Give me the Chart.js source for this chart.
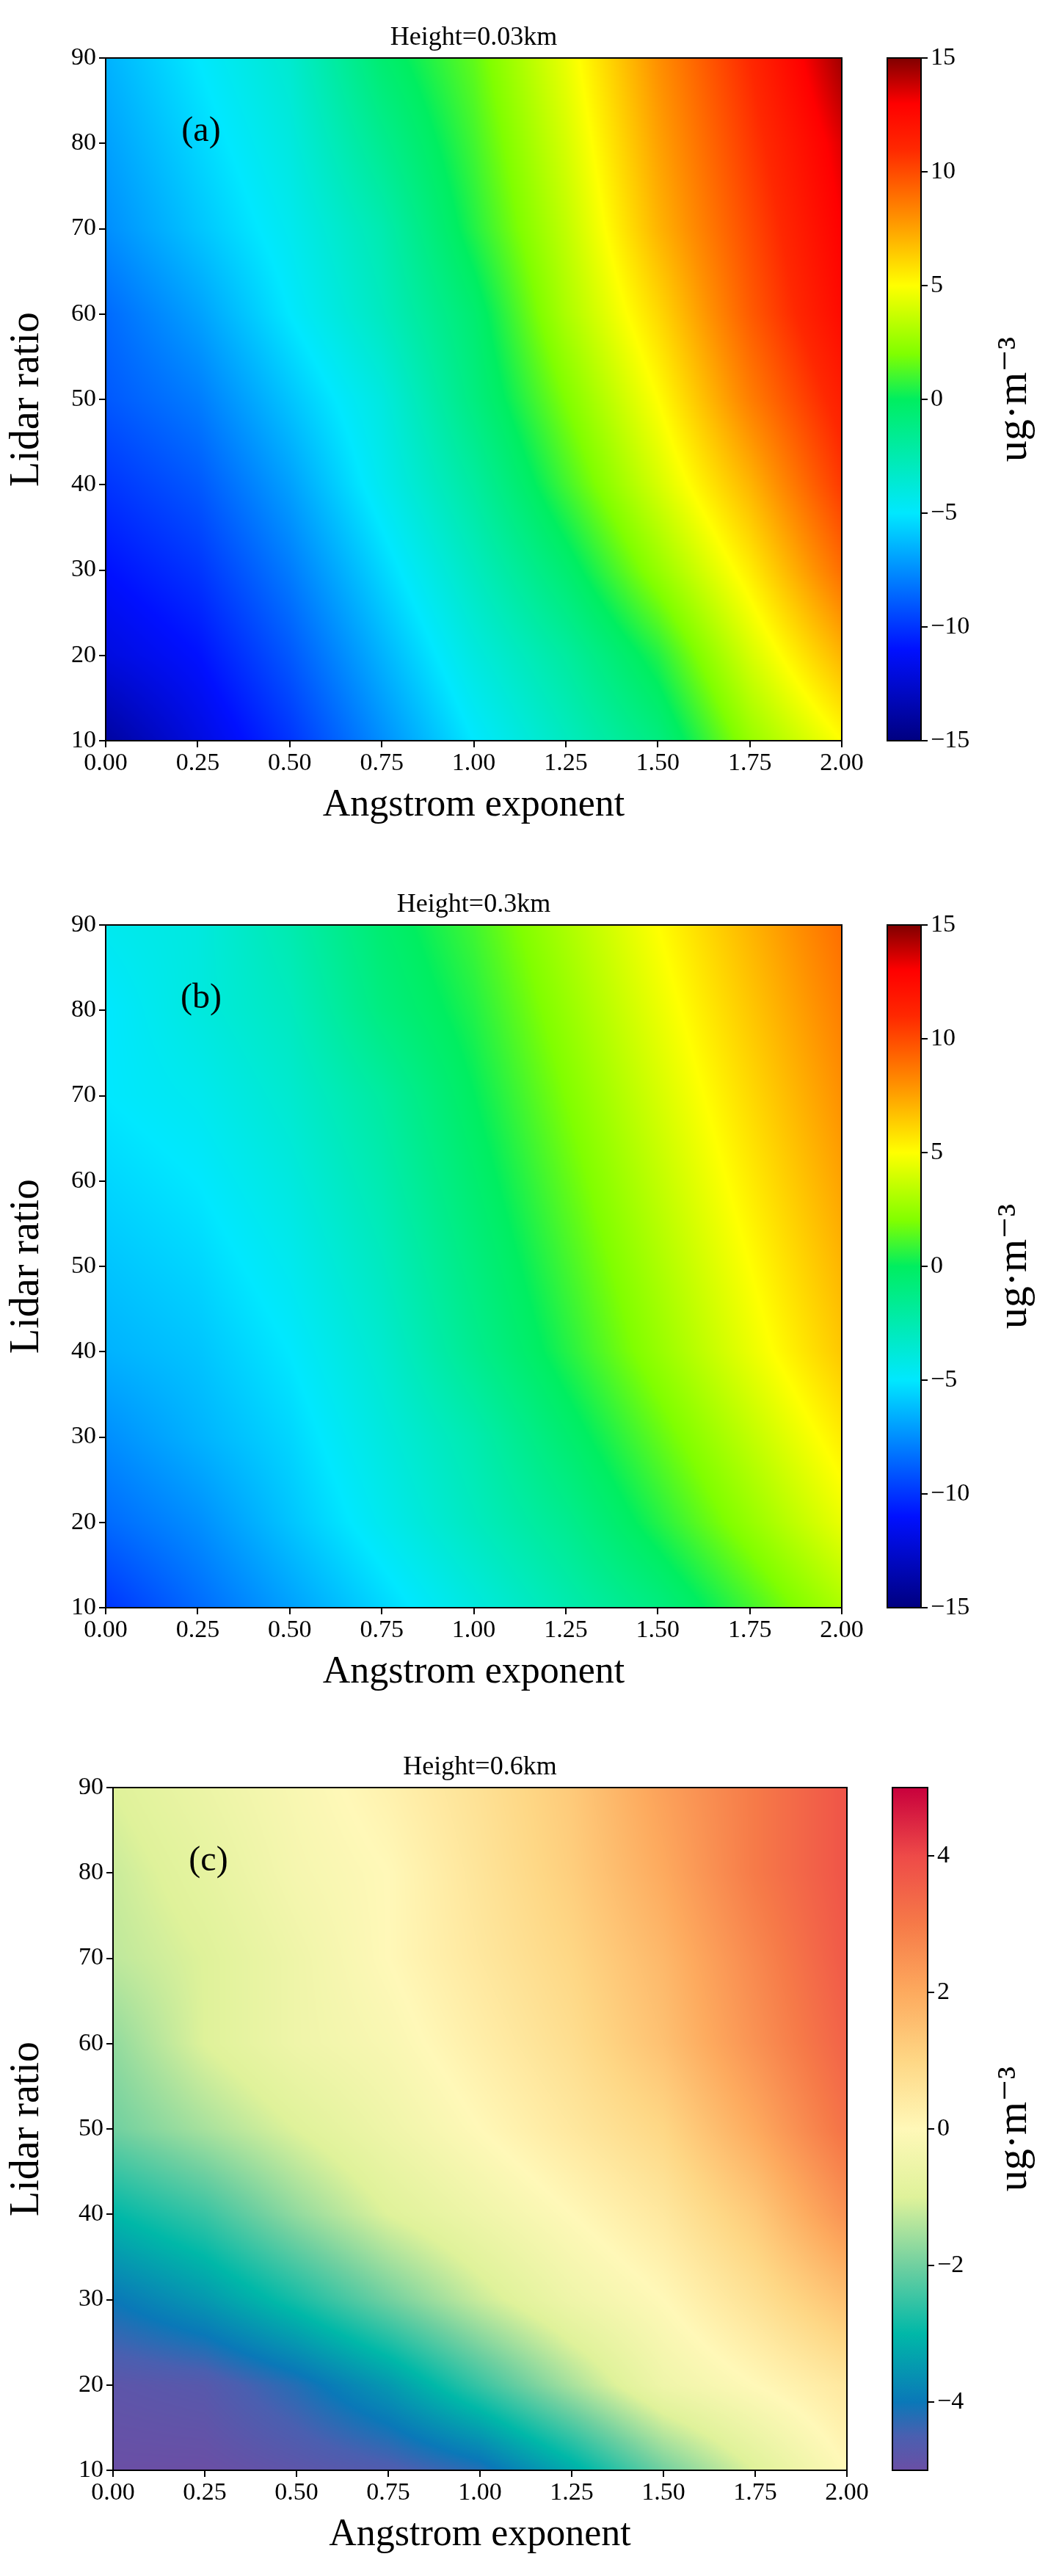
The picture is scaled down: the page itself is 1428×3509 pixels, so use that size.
<!DOCTYPE html>
<html><head><meta charset="utf-8">
<script src="https://cdn.jsdelivr.net/npm/chart.js@4"></script>
<style>body{margin:0;background:#fff;width:1428px;height:3509px;position:relative;overflow:hidden}canvas{position:absolute}</style>
</head><body>
<script>
// ---- data ----
const angstrom = [0,0.25,0.5,0.75,1.0,1.25,1.5,1.75,2.0];
const lidar = [10,20,30,40,50,60,70,80,90];
const xTicks = [0,0.25,0.5,0.75,1,1.25,1.5,1.75,2];
const yTicks = [10,20,30,40,50,60,70,80,90];
// rows: lidar 10..90, cols: angstrom 0..2
const valuesA = [
 [-14,-12,-10,-7.5,-5,-3,-1,2.5,5],
 [-12,-11,-9,-6.5,-4,-2,0.5,4,7],
 [-11,-10,-8,-5.5,-3,-0.5,2.5,5.5,9],
 [-10,-9,-7,-4.5,-2,1,4,7,10.5],
 [-9,-8,-6,-4,-1,2,5,8.5,11.5],
 [-8.5,-7,-5,-3,-0.5,3,6,9.5,12.5],
 [-7.5,-6,-4.5,-2.5,0.5,3.5,7,10,13],
 [-7,-5.5,-4,-1.5,1,4,7.5,10.5,13.5],
 [-6.5,-5,-3.5,-0.5,1.5,4.5,8,11,14.5]];
const valuesB = [
 [-10,-8.5,-7,-5.5,-4,-2.5,-1,1,3],
 [-8.5,-7.5,-6,-4.5,-3,-1.5,0.5,2.5,4.5],
 [-7.5,-6.5,-5.5,-4,-2.5,-0.5,1.5,3.5,5.5],
 [-6.5,-6,-5,-3.5,-1.5,0.5,2.5,4.5,6.5],
 [-6,-5.5,-4.5,-3,-1,1,3,5,7],
 [-5.5,-5,-4,-2.5,-0.5,1.5,3.5,5.5,7.5],
 [-5,-4.5,-3.5,-2,0,2,4,6,8],
 [-5,-4,-3,-1,0.5,2.5,4.5,6.5,8.5],
 [-4.5,-4,-2.5,-0.5,1,3,5,7,9]];
const valuesC = [
 [-5,-5,-4.8,-4.6,-4.2,-3.2,-2,-1,0],
 [-4.8,-4.7,-4.2,-3.5,-2.5,-1.5,-0.5,0,0.5],
 [-4,-3.5,-2.8,-2,-1.2,-0.5,0,0.7,1.5],
 [-3,-2.5,-1.7,-1,-0.5,0,0.5,1.3,2.5],
 [-2,-1.5,-1,-0.5,0,0.5,1,2,3.2],
 [-1.7,-1,-0.5,-0.2,0.3,0.8,1.5,2.5,3.5],
 [-1.3,-1,-0.5,0,0.5,1,1.7,2.7,3.7],
 [-1.2,-0.8,-0.3,0,0.6,1.2,2,3,3.8],
 [-1,-0.6,-0.2,0.2,0.7,1.3,2.2,3,3.8]];
const cbTicksAB = [-15,-10,-5,0,5,10,15];
const cbTicksC = [-4,-2,0,2,4];
const jetStops = [[-15,'#000080'],[-11,'#0010ff'],[-5,'#00e8ff'],[0,'#00ee60'],[2,'#80ff00'],[5,'#ffff00'],[8,'#ff9000'],[11,'#ff2800'],[13,'#ff0000'],[15,'#800000']];
const spectralStops = [[-5,'#6a4fa5'],[-4.5,'#4a5fb0'],[-4,'#0a78b8'],[-3,'#00b8a8'],[-2,'#70d0a0'],[-1,'#dff29a'],[0,'#fff8b8'],[1,'#fed785'],[2,'#fdaa5e'],[3,'#f67a48'],[4,'#ee4a48'],[5,'#c8003c']];

// ---- helpers ----
const FONT = "'Liberation Serif', 'DejaVu Serif', serif";
function hex(c){return [parseInt(c.slice(1,3),16),parseInt(c.slice(3,5),16),parseInt(c.slice(5,7),16)];}
function cmap(stops,v){
  if(v<=stops[0][0]) return hex(stops[0][1]);
  for(let i=1;i<stops.length;i++){ if(v<=stops[i][0]){const a=hex(stops[i-1][1]),b=hex(stops[i][1]);const t=(v-stops[i-1][0])/(stops[i][0]-stops[i-1][0]);return a.map((x,k)=>x+(b[k]-x)*t);} }
  return hex(stops[stops.length-1][1]);
}
function sample(grid,x,y){
  const fx=(x-angstrom[0])/(angstrom[1]-angstrom[0]), fy=(y-lidar[0])/(lidar[1]-lidar[0]);
  const i=Math.max(0,Math.min(angstrom.length-2,Math.floor(fx))), j=Math.max(0,Math.min(lidar.length-2,Math.floor(fy)));
  const tx=Math.max(0,Math.min(1,fx-i)), ty=Math.max(0,Math.min(1,fy-j));
  const a=grid[j][i],b=grid[j][i+1],c=grid[j+1][i],d=grid[j+1][i+1];
  return (a*(1-tx)+b*tx)*(1-ty)+(c*(1-tx)+d*tx)*ty;
}
const minus = v => String(v).replace('-','\u2212');

function panel(top, plotLeft, plotRight, grid, stops, cbMin, cbMax, cbTicks, cbLeft, cbRight, title, tag){
  const padTop=79, H=padTop+930+120, W=1190;
  const cv=document.createElement('canvas'); cv.width=W; cv.height=H; cv.style.left='0px'; cv.style.top=(top-padTop)+'px'; document.body.appendChild(cv);
  const heat={id:'heat',beforeDatasetsDraw(ch){
    const a=ch.chartArea,xs=ch.scales.x,ys=ch.scales.y,ctx=ch.ctx;
    const w=Math.round(a.right-a.left),h=Math.round(a.bottom-a.top);
    const img=ctx.createImageData(w,h);
    for(let py=0;py<h;py++){const yv=ys.getValueForPixel(a.top+py+0.5);
      for(let px=0;px<w;px++){const xv=xs.getValueForPixel(a.left+px+0.5);
        const c=cmap(stops,sample(grid,xv,yv));const k=(py*w+px)*4;img.data[k]=c[0];img.data[k+1]=c[1];img.data[k+2]=c[2];img.data[k+3]=255;}}
    ctx.putImageData(img,Math.round(a.left),Math.round(a.top));
  },afterDraw(ch){
    const a=ch.chartArea,ctx=ch.ctx;ctx.save();ctx.strokeStyle='#000';ctx.lineWidth=2;ctx.strokeRect(a.left,a.top,a.right-a.left,a.bottom-a.top);
    ctx.fillStyle='#000';ctx.textAlign='center';ctx.textBaseline='alphabetic';ctx.font='36px '+FONT;
    ctx.fillText(title,(a.left+a.right)/2,a.top-18);
    ctx.font='48px '+FONT;ctx.textBaseline='middle';ctx.fillText(tag,a.left+130,a.top+100);ctx.restore();}};
  const pts=[];lidar.forEach((y,j)=>angstrom.forEach((x,i)=>pts.push({x,y,v:grid[j][i]})));
  new Chart(cv,{type:'scatter',data:{datasets:[{data:pts,pointRadius:0}]},plugins:[heat],
    options:{responsive:false,animation:false,devicePixelRatio:1,layout:{padding:{top:padTop,right:W-plotRight,left:0,bottom:0}},
      plugins:{legend:{display:false},tooltip:{enabled:false}},
      scales:{
        x:{type:'linear',min:0,max:2,afterBuildTicks:s=>{s.ticks=xTicks.map(v=>({value:v}));},afterFit:s=>{s.height=H-padTop-930;},
          ticks:{callback:v=>v.toFixed(2),color:'#000',font:{family:FONT,size:34},maxRotation:0,padding:2},
          grid:{drawOnChartArea:false,drawTicks:true,tickLength:9,color:'#000',lineWidth:2},border:{display:false},
          title:{display:true,text:'Angstrom exponent',color:'#000',font:{family:FONT,size:52},padding:{top:0,bottom:0}}},
        y:{type:'linear',min:10,max:90,afterBuildTicks:s=>{s.ticks=yTicks.map(v=>({value:v}));},afterFit:s=>{s.width=plotLeft;},
          ticks:{color:'#000',font:{family:FONT,size:34},padding:4},
          grid:{drawOnChartArea:false,drawTicks:true,tickLength:9,color:'#000',lineWidth:2},border:{display:false},
          title:{display:true,text:'Lidar ratio',color:'#000',font:{family:FONT,size:56},padding:{top:4,bottom:0}}}}}});
  // colorbar
  const CW=1428-1150;
  const cb=document.createElement('canvas');cb.width=CW;cb.height=H;cb.style.left='1150px';cb.style.top=(top-padTop)+'px';document.body.appendChild(cb);
  const grad={id:'grad',beforeDatasetsDraw(ch){const a=ch.chartArea,ys=ch.scales.y,ctx=ch.ctx;
    const g=ctx.createLinearGradient(0,ys.getPixelForValue(cbMin),0,ys.getPixelForValue(cbMax));
    stops.forEach(s=>g.addColorStop((s[0]-cbMin)/(cbMax-cbMin),s[1]));ctx.fillStyle=g;ctx.fillRect(a.left,a.top,a.right-a.left,a.bottom-a.top);},
    afterDraw(ch){const a=ch.chartArea,ctx=ch.ctx;ctx.save();ctx.strokeStyle='#000';ctx.lineWidth=2;ctx.strokeRect(a.left,a.top,a.right-a.left,a.bottom-a.top);
      ctx.translate(1383-1150,(a.top+a.bottom)/2);ctx.rotate(-Math.PI/2);ctx.fillStyle='#000';ctx.textAlign='center';ctx.textBaseline='middle';
      ctx.font='58px '+FONT;ctx.fillText('ug\u00b7m\u207b\u00b3',0,0);ctx.restore();}};
  new Chart(cb,{type:'scatter',data:{datasets:[{data:[{x:0,y:cbMin},{x:1,y:cbMax}],pointRadius:0}]},plugins:[grad],
    options:{responsive:false,animation:false,devicePixelRatio:1,layout:{padding:{top:padTop,left:cbLeft-1150,right:0,bottom:0}},
      plugins:{legend:{display:false},tooltip:{enabled:false}},
      scales:{x:{display:false,min:0,max:1,afterFit:s=>{s.height=H-padTop-930;}},
        y:{position:'right',min:cbMin,max:cbMax,afterBuildTicks:s=>{s.ticks=cbTicks.map(v=>({value:v}));},afterFit:s=>{s.width=CW-(cbRight-1150);},
          ticks:{callback:v=>minus(v),color:'#000',font:{family:FONT,size:34},padding:4},
          grid:{drawOnChartArea:false,drawTicks:true,tickLength:9,color:'#000',lineWidth:2},border:{display:false}}}}});
}
panel(79,144,1147,valuesA,jetStops,-15,15,cbTicksAB,1209,1255,'Height=0.03km','(a)');
panel(1260,144,1147,valuesB,jetStops,-15,15,cbTicksAB,1209,1255,'Height=0.3km','(b)');
panel(2435,154,1154,valuesC,spectralStops,-5,5,cbTicksC,1216,1264,'Height=0.6km','(c)');
</script>
</body></html>
